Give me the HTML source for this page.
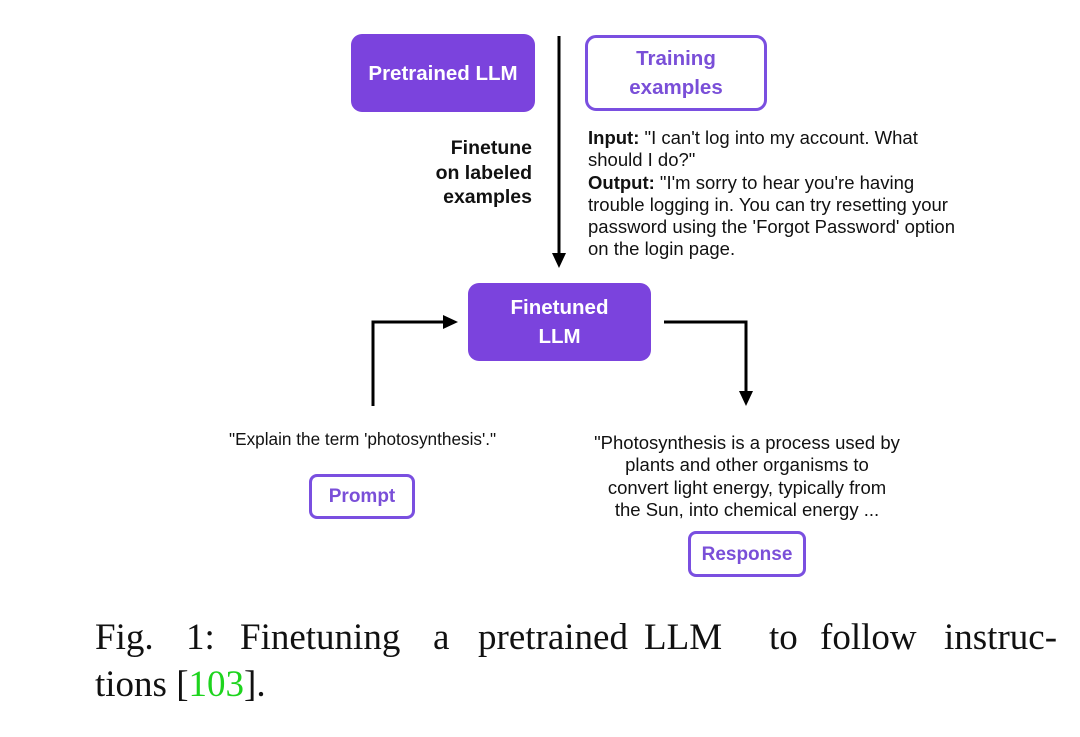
<!DOCTYPE html>
<html><head><style>
body{margin:0;width:1080px;height:737px;background:#fff;position:relative;overflow:hidden;font-family:"Liberation Sans",sans-serif;}
.a{position:absolute;}
.box{position:absolute;box-sizing:border-box;border-radius:11px;display:flex;align-items:center;justify-content:center;text-align:center;font-size:20.5px;line-height:29px;font-weight:bold;}
.fill{background:#7b43dd;color:#fff;}
.out{border:3px solid #7a4fe0;color:#7a4fd8;background:#fff;}
.t{position:absolute;font-size:18.5px;color:#111;line-height:22.3px;white-space:nowrap;}
.cap{position:absolute;font-family:"Liberation Serif",serif;font-size:37px;color:#111;top:616px;white-space:nowrap;}
</style></head><body>
<div class="box fill" style="left:351px;top:34px;width:184px;height:78px;">Pretrained LLM</div>
<div class="box out" style="left:585px;top:35px;width:182px;height:76px;">Training<br>examples</div>
<div class="t" style="right:548px;top:136px;text-align:right;font-weight:bold;font-size:19.5px;line-height:24.5px;">Finetune<br>on labeled<br>examples</div>
<div class="t" style="left:588px;top:127px;"><b>Input:</b> "I can't log into my account. What<br>should I do?"<br><b>Output:</b> "I'm sorry to hear you're having<br>trouble logging in. You can try resetting your<br>password using the 'Forgot Password' option<br>on the login page.</div>
<div class="box fill" style="left:468px;top:283px;width:183px;height:78px;">Finetuned<br>LLM</div>
<svg class="a" style="left:0;top:0" width="1080" height="737">
<g stroke="#000" stroke-width="3" fill="none">
<line x1="559" y1="36" x2="559" y2="255"/>
<polyline points="373,406 373,322 445,322"/>
<polyline points="664,322 746,322 746,393"/>
</g>
<polygon points="552,253 566,253 559,268" fill="#000"/>
<polygon points="443,315 443,329 458,322" fill="#000"/>
<polygon points="739,391 753,391 746,406" fill="#000"/>
</svg>
<div class="t" style="left:229px;top:428px;font-size:17.2px;">"Explain the term 'photosynthesis'."</div>
<div class="box out" style="left:309px;top:474px;width:106px;height:45px;border-radius:8px;font-size:19px;">Prompt</div>
<div class="t" style="left:547px;top:432px;width:400px;text-align:center;">"Photosynthesis is a process used by<br>plants and other organisms to<br>convert light energy, typically from<br>the Sun, into chemical energy ...</div>
<div class="box out" style="left:688px;top:531px;width:118px;height:46px;border-radius:8px;font-size:19px;">Response</div>
<span class="cap" style="left:95px">Fig.</span>
<span class="cap" style="left:186px">1:</span>
<span class="cap" style="left:240px">Finetuning</span>
<span class="cap" style="left:433px">a</span>
<span class="cap" style="left:478px">pretrained</span>
<span class="cap" style="left:644px">LLM</span>
<span class="cap" style="left:769px">to</span>
<span class="cap" style="left:820px">follow</span>
<span class="cap" style="left:944px">instruc-</span>
<span class="cap" style="left:95px;top:663px">tions [<span style="color:#1ed41e">103</span>].</span>
</body></html>
